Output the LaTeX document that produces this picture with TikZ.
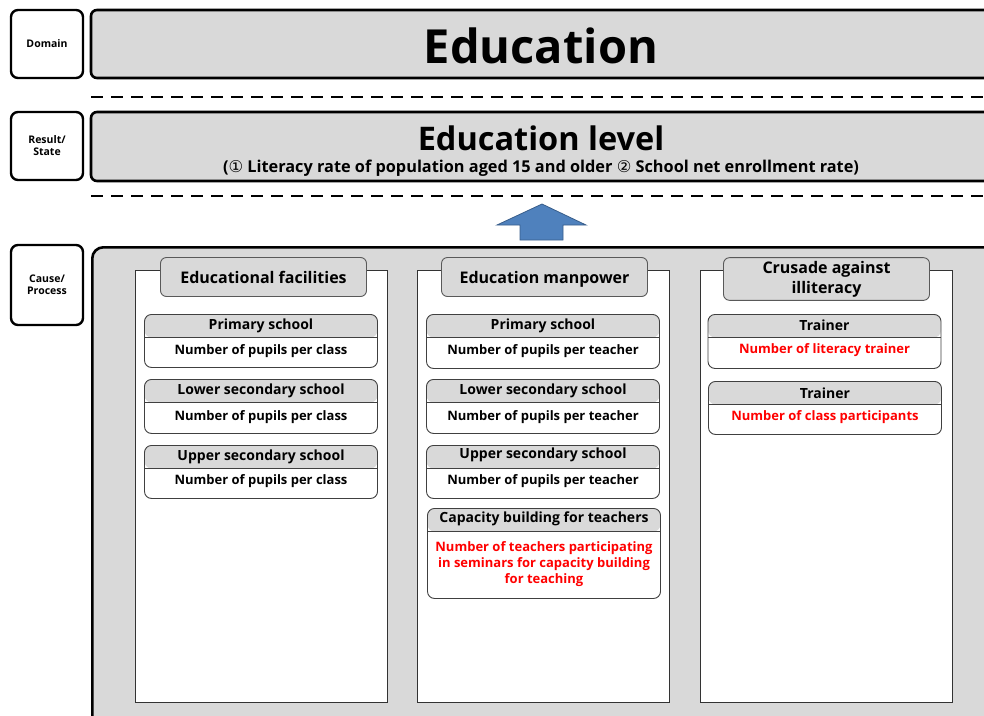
\documentclass[tikz,border=0pt]{standalone}
\usepackage{fontspec}
\setmainfont{Open Sans}
\newfontfamily\circfont{DejaVu Sans}
\usepackage{tikz}
\definecolor{bandgray}{HTML}{D9D9D9}
\definecolor{arrowblue}{HTML}{4F81BD}
\definecolor{arrowedge}{HTML}{385D8A}
\definecolor{itemred}{HTML}{FF0000}
\tikzstyle{sidebox}=[rectangle, draw=black, line width=2.4pt, rounded corners=7pt, fill=white, minimum width=72pt, align=center, font=\bfseries\fontsize{10.5}{12}\selectfont]
\tikzstyle{band}=[rectangle, draw=black, line width=2.6pt, rounded corners=6pt, fill=bandgray]
\tikzstyle{column}=[rectangle, draw=black!80, line width=0.9pt, fill=white, minimum width=252pt, minimum height=432pt]
\tikzstyle{tab}=[rectangle, draw=black!65, line width=0.9pt, rounded corners=6pt, fill=bandgray, minimum width=206pt, minimum height=39pt, align=center, text height=14pt, text depth=2pt, font=\bfseries\fontsize{16}{18}\selectfont]
\tikzstyle{item}=[rectangle, draw=black!75, line width=0.9pt, rounded corners=7pt, fill=white, minimum width=233pt, anchor=north,
  path picture={\fill[bandgray] (path picture bounding box.north west) rectangle ([yshift=-23pt]path picture bounding box.north east);
    \draw[black!75, line width=0.9pt] ([yshift=-23pt]path picture bounding box.north west) -- ([yshift=-23pt]path picture bounding box.north east);}]
\tikzstyle{itemhead}=[font=\bfseries\fontsize{14}{15}\selectfont, inner sep=0pt]
\tikzstyle{itembody}=[font=\bfseries\fontsize{13}{16}\selectfont, inner sep=0pt, align=center]

\begin{document}
\begin{tikzpicture}[x=1pt, y=1pt]
    \useasboundingbox (0,0) rectangle (984,-715);
    % left column of level labels
    \path
    (47,-44) node[sidebox, minimum height=68pt] (domain) {Domain}
    (47,-146) node[sidebox, minimum height=68pt] (result) {Result/\\State}
    (47,-285) node[sidebox, minimum height=80pt] (cause) {Cause/\\Process};

    % bands
    \path
    (540.5,-44) node[band, minimum width=899pt, minimum height=68pt] (edu) {}
    (540.5,-146.5) node[band, minimum width=899pt, minimum height=69pt] (level) {}
    (91,-246) node[band, rounded corners=11pt, anchor=north west, minimum width=910pt, minimum height=490pt] (process) {};
    \node[font=\bfseries\fontsize{47}{50}\selectfont] (edutitle) at (541,-46) {Education};
    \node[font=\bfseries\fontsize{32.5}{34}\selectfont] (leveltitle) at (541,-138) {Education level};
    \node[font=\bfseries\fontsize{16.3}{18}\selectfont] (levelsub) at (541,-168)
      {({\circfont\mdseries ①} Literacy rate of population aged 15 and older {\circfont\mdseries ②} School net enrollment rate)};

    \coordinate (dashA1) at (91,-97);
    \coordinate (dashA2) at (990,-97);
    \coordinate (dashB1) at (91,-196);
    \coordinate (dashB2) at (990,-196);
    \draw[line width=2.6pt, dash pattern=on 12pt off 8pt] (dashA1) -- (dashA2);
    \draw[line width=2.6pt, dash pattern=on 12pt off 8pt] (dashB1) -- (dashB2);

    % arrow from process up to result
    \draw[fill=arrowblue, draw=arrowedge, line width=0.8pt]
      (497,-225) -- (542,-204) -- (586,-225) -- (563,-225) -- (563,-240) -- (520,-240) -- (520,-225) -- cycle;

    % three columns
    \path
    (261.5,-486.5) node[column] (colfac) {}
    (543.5,-486.5) node[column] (colman) {}
    (826.5,-486.5) node[column] (colcru) {};
    \path
    (263.5,-277) node[tab] (tabfac) {Educational facilities}
    (544.5,-277) node[tab] (tabman) {Education manpower}
    (826.5,-279) node[tab, text height=, text depth=, font=\bfseries\fontsize{16}{20}\selectfont] (tabcru) {Crusade against\\illiteracy};

    % educational facilities
    \node[item, minimum height=53pt] (fac1) at (261,-314) {};
    \node[itemhead] (fac1h) at ([yshift=-11.5pt]fac1.north) {Primary school};
    \node[itembody] (fac1b) at ([yshift=-37pt]fac1.north) {Number of pupils per class};
    \node[item, minimum height=54pt] (fac2) at (261,-379) {};
    \node[itemhead] (fac2h) at ([yshift=-11.5pt]fac2.north) {Lower secondary school};
    \node[itembody] (fac2b) at ([yshift=-38pt]fac2.north) {Number of pupils per class};
    \node[item, minimum height=53pt] (fac3) at (261,-445) {};
    \node[itemhead] (fac3h) at ([yshift=-11.5pt]fac3.north) {Upper secondary school};
    \node[itembody] (fac3b) at ([yshift=-36pt]fac3.north) {Number of pupils per class};

    % education manpower
    \node[item, minimum height=54pt] (man1) at (543,-314) {};
    \node[itemhead] (man1h) at ([yshift=-11.5pt]man1.north) {Primary school};
    \node[itembody] (man1b) at ([yshift=-37pt]man1.north) {Number of pupils per teacher};
    \node[item, minimum height=54pt] (man2) at (543,-379) {};
    \node[itemhead] (man2h) at ([yshift=-11.5pt]man2.north) {Lower secondary school};
    \node[itembody] (man2b) at ([yshift=-38pt]man2.north) {Number of pupils per teacher};
    \node[item, minimum height=53pt] (man3) at (543,-445) {};
    \node[itemhead] (man3h) at ([yshift=-10pt]man3.north) {Upper secondary school};
    \node[itembody] (man3b) at ([yshift=-36pt]man3.north) {Number of pupils per teacher};
    \node[item, minimum height=90pt] (man4) at (544,-508) {};
    \node[itemhead] (man4h) at ([yshift=-11pt]man4.north) {Capacity building for teachers};
    \node[itembody, text=itemred, anchor=north] (man4b) at ([yshift=-33pt]man4.north)
      {Number of teachers participating\\in seminars for capacity building\\for teaching};

    % crusade against illiteracy
    \node[item, minimum height=54pt] (cru1) at (824.5,-314) {};
    \node[itemhead] (cru1h) at ([yshift=-11pt]cru1.north) {Trainer};
    \node[itembody, text=itemred] (cru1b) at ([yshift=-36pt]cru1.north) {Number of literacy trainer};
    \node[item, minimum height=53pt] (cru2) at (825,-381) {};
    \node[itemhead] (cru2h) at ([yshift=-12pt]cru2.north) {Trainer};
    \node[itembody, text=itemred] (cru2b) at ([yshift=-36pt]cru2.north) {Number of class participants};
\end{tikzpicture}
\end{document}
